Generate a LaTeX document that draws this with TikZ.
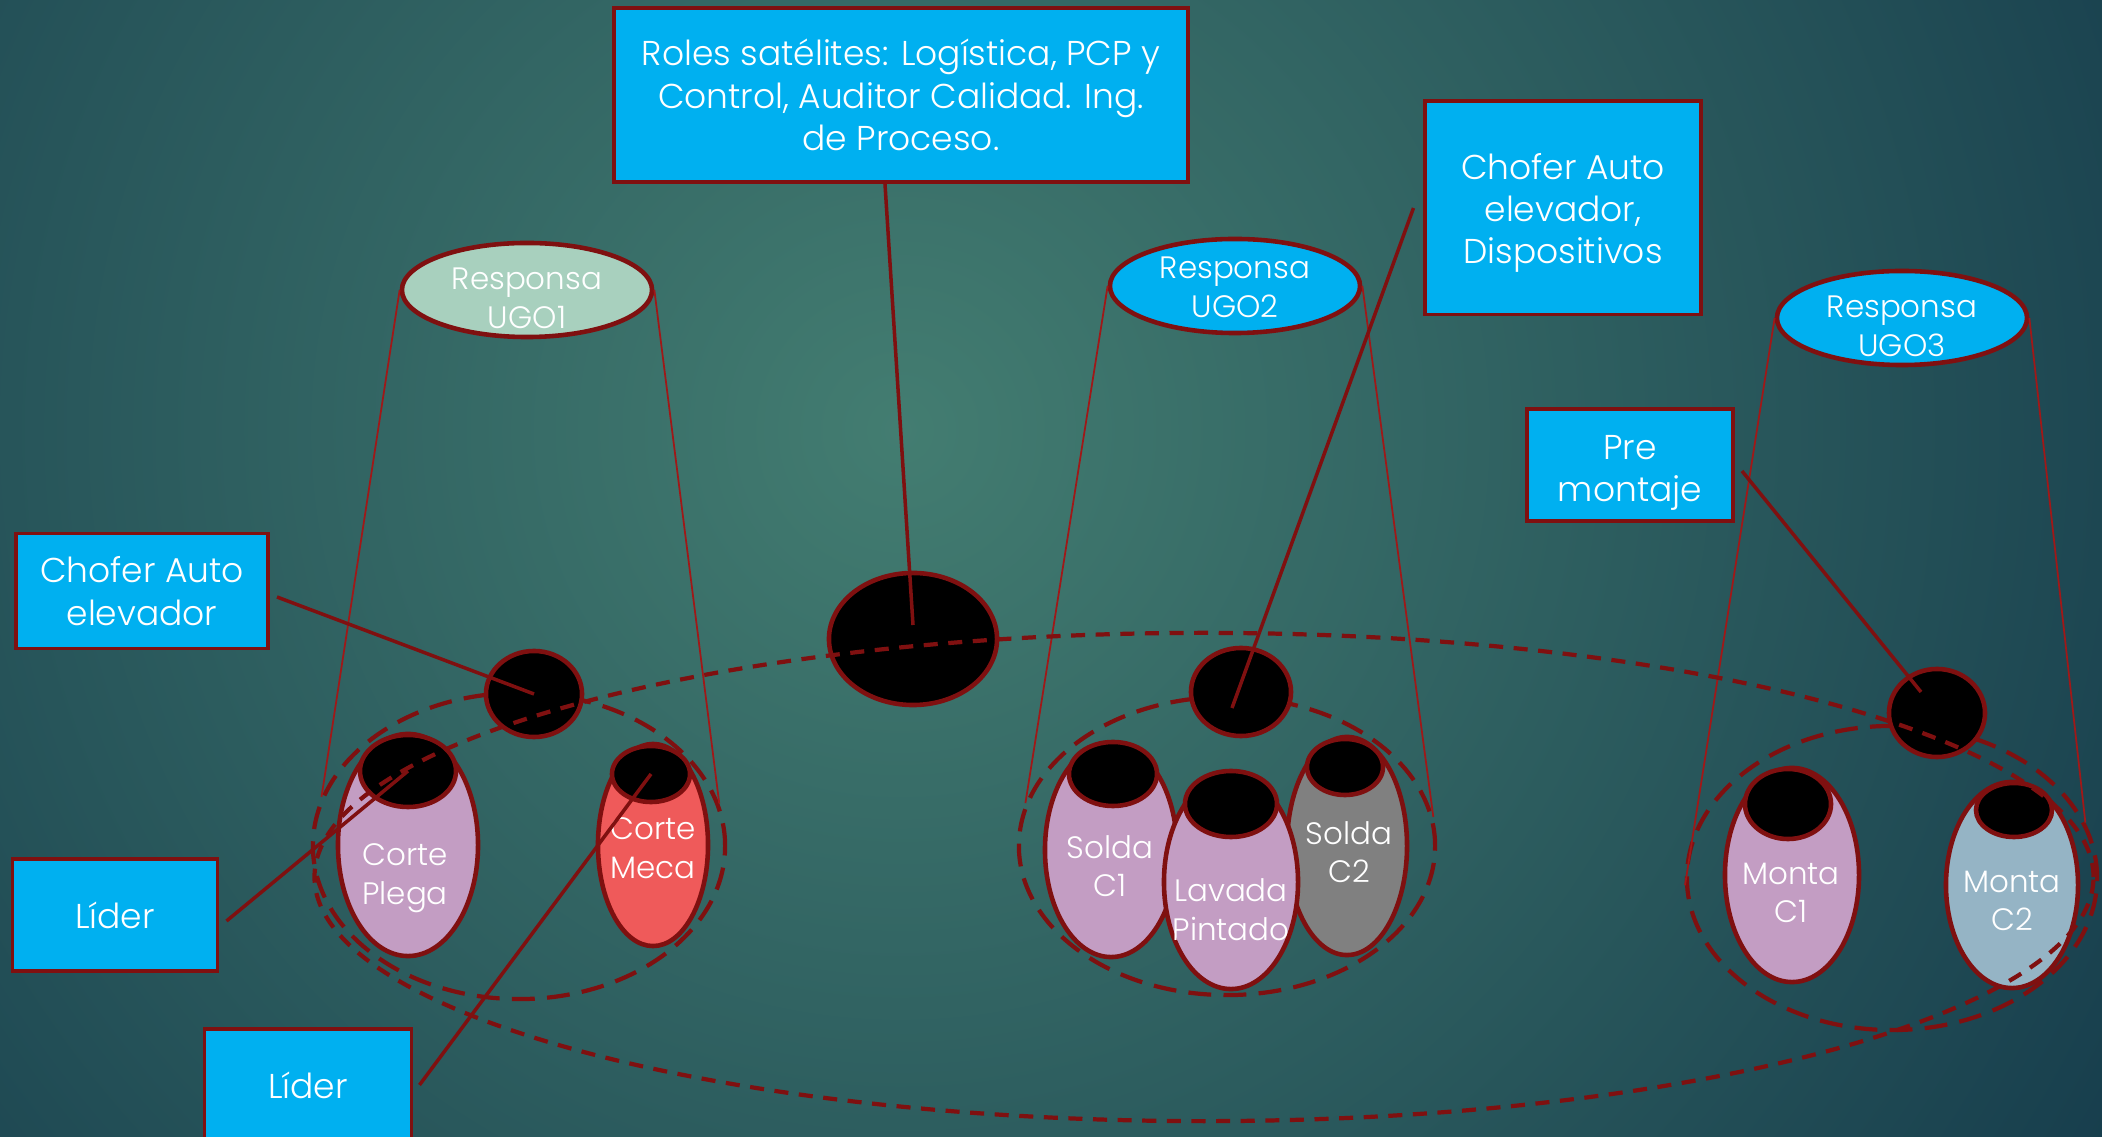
\documentclass[tikz,border=0pt]{standalone}
\usepackage{fontspec}
\setmainfont{Poppins}[UprightFont={* Light}]
\usetikzlibrary{shapes.geometric}
\definecolor{bgmid}{HTML}{437D71}
\definecolor{bgdark}{HTML}{173E4D}
\definecolor{boxblue}{HTML}{00B0F0}
\definecolor{rim}{HTML}{7F1010}
\definecolor{thinred}{HTML}{A01818}
\definecolor{mint}{HTML}{A8D0BE}
\definecolor{lav}{HTML}{C39DC3}
\definecolor{salmon}{HTML}{EF5A5A}
\definecolor{steel}{HTML}{95B4C5}
\tikzset{
  rolebox/.style={rectangle,fill=boxblue,draw=rim,line width=1.1pt,text=white,align=center,inner sep=0pt,font=\fontsize{9.8}{12}\selectfont},
  resp/.style={ellipse,fill=boxblue,draw=rim,line width=1.3pt,inner sep=0pt,minimum width=2.5cm,minimum height=0.94cm},
  tube/.style={ellipse,draw=rim,line width=1.3pt,inner sep=0pt},
  hole/.style={ellipse,fill=black,draw=rim,line width=1.3pt,inner sep=0pt},
  ring/.style={ellipse,draw=rim,line width=1.2pt,dash pattern=on 6.5pt off 3.5pt,inner sep=0pt},
  tag/.style={text=white,align=center,font=\fontsize{8.8}{11}\selectfont},
  cone/.style={draw=thinred,line width=0.5pt},
  link/.style={draw=rim,line width=1pt}
}
\begin{document}
\begin{tikzpicture}[x=0.01cm,y=-0.01cm]
\useasboundingbox(0,0) rectangle (2102,1137);
\clip(0,0) rectangle (2102,1137);
\fill[bgdark](0,0) rectangle (2102,1137);
\shade[inner color=bgmid,outer color=bgdark](900,430) circle [radius=14cm];
% responsables
\node[resp,fill=mint](ugoA) at (527,290){};
\node[resp](ugoB) at (1235,286){};
\node[resp](ugoC) at (1902,318){};
\node[tag](ugoAtxt) at (527,298){Responsa\\UGO1};
\node[tag](ugoBtxt) at (1235,287){Responsa\\UGO2};
\node[tag](ugoCtxt) at (1902,326){Responsa\\UGO3};
% grupos
\node[ring,minimum width=4.12cm,minimum height=3.06cm](grpA) at (519,846){};
\node[ring,minimum width=4.16cm,minimum height=2.98cm](grpB) at (1227,846){};
\node[ring,minimum width=4.10cm,minimum height=3.04cm](grpC) at (1892,878){};
\draw[cone](ugoA.west)--(grpA.166);
\draw[cone](ugoA.east)--(grpA.12);
\draw[cone](ugoB.west)--(grpB.168);
\draw[cone](ugoB.east)--(grpB.8);
\draw[cone](ugoC.west)--(grpC.182);
\draw[cone](ugoC.east)--(grpC.16);
% celdas
\node[tube,fill=lav,minimum width=1.40cm,minimum height=2.22cm](plega) at (408,845){};
\node[hole,minimum width=0.96cm,minimum height=0.72cm](plegaTop) at (408,771){};
\node[tag](plegaTxt) at (405,878){Corte\\Plega};
\node[tube,fill=salmon,minimum width=1.10cm,minimum height=2.02cm](meca) at (653,845){};
\node[hole,minimum width=0.78cm,minimum height=0.56cm](mecaTop) at (651,774){};
\node[tag](mecaTxt) at (653,848){Corte\\Meca};
\node[tube,fill=lav,minimum width=1.32cm,minimum height=2.14cm](soldaA) at (1111,850){};
\node[hole,minimum width=0.88cm,minimum height=0.64cm](soldaAtop) at (1113,774){};
\node[tag](soldaAtxt) at (1110,866){Solda\\C1};
\node[tube,fill=gray,minimum width=1.20cm,minimum height=2.18cm](soldaB) at (1347,846){};
\node[hole,minimum width=0.76cm,minimum height=0.56cm](soldaBtop) at (1345,767){};
\node[tag](soldaBtxt) at (1349,852){Solda\\C2};
\node[tube,fill=lav,minimum width=1.34cm,minimum height=2.14cm](lavado) at (1231,882){};
\node[hole,minimum width=0.92cm,minimum height=0.66cm](lavadoTop) at (1231,804){};
\node[tag](lavadoTxt) at (1231,910){Lavada\\Pintado};
\node[tube,fill=lav,minimum width=1.34cm,minimum height=2.14cm](montaA) at (1792,875){};
\node[hole,minimum width=0.86cm,minimum height=0.70cm](montaAtop) at (1788,804){};
\node[tag](montaAtxt) at (1791,893){Monta\\C1};
\node[tube,fill=steel,minimum width=1.32cm,minimum height=2.06cm](montaB) at (2012,885){};
\node[hole,minimum width=0.76cm,minimum height=0.54cm](montaBtop) at (2014,810){};
\node[tag](montaBtxt) at (2012,901){Monta\\C2};
% satelites
\node[hole,minimum width=0.96cm,minimum height=0.86cm](hubA) at (534,694){};
\node[hole,minimum width=1.00cm,minimum height=0.88cm](hubB) at (1241,692){};
\node[hole,minimum width=1.68cm,minimum height=1.32cm](hubC) at (913,639){};
\node[hole,minimum width=0.96cm,minimum height=0.88cm](hubD) at (1937,713){};
\node[ring,dash pattern=on 4pt off 3pt,minimum width=17.78cm,minimum height=4.88cm](planta) at (1204,877){};
% cajas
\node[rolebox,minimum width=5.74cm,minimum height=1.74cm](roles) at (901,95){Roles satélites: Logística, PCP y\\Control, Auditor Calidad. Ing.\\de Proceso.};
\node[rolebox,minimum width=2.75cm,minimum height=2.13cm,label={[rolebox,fill=none,draw=none,yshift=-0.05cm]center:Chofer Auto\\elevador,\\Dispositivos}](chofB) at (1563,208){};
\node[rolebox,minimum width=2.52cm,minimum height=1.15cm](chofA) at (142,591){Chofer Auto\\elevador};
\node[rolebox,minimum width=2.06cm,minimum height=1.12cm,label={[rolebox,fill=none,draw=none,yshift=-0.08cm]center:Pre\\montaje}](pre) at (1630,465){};
\node[rolebox,minimum width=2.05cm,minimum height=1.12cm](lidA) at (115,915){Líder};
\node[rolebox,minimum width=2.07cm,minimum height=1.12cm,anchor=north](lidB) at (308,1027){Líder};
\draw[link]([xshift=-0.16cm]roles.south)--([yshift=0.14cm]hubC.center);
\draw[link]([xshift=-0.1cm]chofB.west)--([xshift=-0.09cm,yshift=-0.16cm]hubB.center);
\draw[link]([xshift=0.07cm,yshift=-0.06cm]chofA.east)--(hubA.center);
\draw[link]([xshift=0.07cm,yshift=-0.06cm]lidA.east)--(plegaTop.center);
\draw[link]([xshift=0.06cm]lidB.east)--(mecaTop.center);
\draw[link]([xshift=0.07cm,yshift=-0.06cm]pre.east)--([xshift=-0.16cm,yshift=0.21cm]hubD.center);
\end{tikzpicture}
\end{document}
